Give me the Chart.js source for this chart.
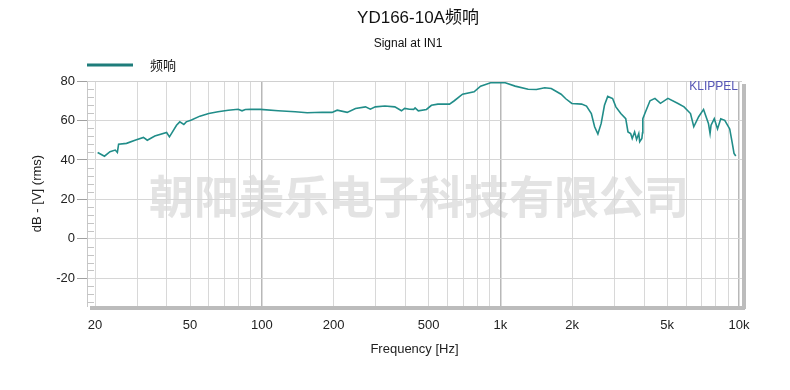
<!DOCTYPE html>
<html>
<head>
<meta charset="utf-8">
<script src="https://cdn.jsdelivr.net/npm/chart.js@4/dist/chart.umd.min.js"></script>
<style>
  html, body { margin: 0; padding: 0; background: #fff; }
  #wrap { width: 790px; height: 390px; }
</style>
</head>
<body>
<div id="wrap"><canvas id="fr" width="790" height="390"></canvas></div>
<script>
// YD166-10A frequency response (Klippel export)
const freqHz = [
    20.5, 21.9, 23.1, 24.3, 24.8, 25.1, 27.1, 29.4, 31.9, 33.1, 35.6, 39.9, 41.0, 43.9, 45.3, 47.1, 48.2,
    50.7, 55.0, 59.9, 65.5, 72.3, 79.6, 82.6, 85.3, 89.5, 98.6, 117, 138, 155, 179, 197, 207,
    228, 247, 272, 285, 299, 328, 361, 385, 397, 416, 433, 439, 453, 490, 514, 547,
    612, 641, 694, 776, 826, 910, 1000, 1048, 1153, 1307, 1416, 1534, 1634, 1797, 1880, 1993,
    2191, 2296, 2406, 2483, 2563, 2646, 2731, 2818, 2954, 3049, 3197, 3353, 3427, 3516, 3570, 3653,
    3723, 3803, 3837, 3918, 3943, 3955, 4044, 4239, 4445, 4688, 5040, 5530, 5888, 6266, 6467, 6780,
    7107, 7450, 7567, 7640, 7882, 8133, 8391, 8721, 9148, 9357, 9537, 9700
];
const levelDb = [
    43.8, 41.9, 44.2, 45.0, 43.8, 48.0, 48.4, 50.0, 51.4, 50.0, 52.1, 53.9, 51.7, 57.6, 59.3, 58.0, 59.3,
    60.2, 62.2, 63.5, 64.4, 65.2, 65.7, 64.9, 65.6, 65.7, 65.6, 64.9, 64.4, 63.9, 64.2, 64.1, 65.2,
    64.1, 66.1, 66.9, 65.7, 66.9, 67.3, 66.9, 64.9, 66.1, 65.7, 65.6, 66.4, 64.9, 65.6, 67.7, 68.3,
    68.3, 70.0, 73.3, 74.5, 77.4, 79.1, 79.2, 79.1, 77.4, 75.8, 75.7, 76.6, 76.2, 73.3, 71.0, 68.6,
    68.3, 67.3, 63.5, 56.8, 53.1, 58.5, 67.7, 72.2, 71.1, 66.9, 63.5, 60.9, 54.2, 53.4, 50.9, 54.2,
    50.4, 53.4, 49.2, 50.9, 53.8, 60.9, 63.9, 70.0, 71.2, 68.7, 71.2, 68.7, 66.9, 63.5, 56.8, 61.9,
    65.6, 58.5, 53.4, 57.6, 60.9, 55.7, 60.9, 60.1, 55.7, 49.2, 43.3, 42.0
];

const xGridFreqs = [20, 30, 40, 50, 60, 70, 80, 90, 100, 200, 300, 400, 500, 600, 700, 800, 900,
    1000, 2000, 3000, 4000, 5000, 6000, 7000, 8000, 9000, 10000];
const xTickText = { 20: '20', 50: '50', 100: '100', 200: '200', 500: '500', 1000: '1k', 2000: '2k', 5000: '5k', 10000: '10k' };
const xDecades = [100, 1000, 10000];
const yMajorTicks = [80, 60, 40, 20, 0, -20];
const yMin = -34, yMax = 80, yMinorStep = 4;

const titleText = 'YD166-10A频响';
const subtitleText = 'Signal at IN1';
const seriesName = '频响';
const watermarkText = '朝阳美乐电子科技有限公司';

const lineColor = '#218d89';
const sansFont = '"Liberation Sans", Arial, "Noto Sans CJK SC", sans-serif';
const cjkFont = '"Noto Sans CJK SC", "Liberation Sans", sans-serif';

const points = freqHz.map((f, i) => ({ x: f, y: levelDb[i] }));

const decor = {
    id: 'decor',
    beforeDraw(chart) {
        const c = chart.ctx;
        c.save();
        c.fillStyle = '#fff';
        c.fillRect(0, 0, chart.width, chart.height);
        // watermark sits under the grid
        c.fillStyle = '#e3e3e3';
        c.font = 'bold 45px ' + cjkFont;
        c.textAlign = 'center';
        c.textBaseline = 'middle';
        c.fillText(watermarkText, 419, 197);
        c.restore();
    },
    beforeDatasetsDraw(chart) {
        const c = chart.ctx, a = chart.chartArea, ys = chart.scales.y;
        c.save();
        // small ruler ticks inside the left edge
        c.strokeStyle = '#c4c4c4';
        c.lineWidth = 1;
        for (let v = -32; v <= yMax; v += yMinorStep) {
            if (yMajorTicks.includes(v)) continue;
            const py = Math.round(ys.getPixelForValue(v)) + 0.5;
            c.beginPath();
            c.moveTo(a.left, py);
            c.lineTo(a.left + 7, py);
            c.stroke();
        }
        c.restore();
    },
    afterDraw(chart) {
        const c = chart.ctx, a = chart.chartArea;
        c.save();
        // shadowed frame
        c.fillStyle = '#bcbcbc';
        c.fillRect(a.left + 3, a.bottom, a.right - a.left, 4);
        c.fillRect(a.right, a.top + 3, 4, a.bottom - a.top);
        c.strokeStyle = '#d0d0d0';
        c.lineWidth = 1;
        c.beginPath();
        c.moveTo(a.left, a.top + 0.5);
        c.lineTo(a.right, a.top + 0.5);
        c.stroke();

        c.fillStyle = '#111';
        c.textAlign = 'center';
        c.textBaseline = 'middle';
        c.font = '17px ' + sansFont;
        c.fillText(titleText, 418, 18);
        c.font = '12px ' + sansFont;
        c.fillText(subtitleText, 408, 44);

        // legend
        c.strokeStyle = '#1e7d7b';
        c.lineWidth = 3;
        c.beginPath();
        c.moveTo(87, 65);
        c.lineTo(133, 65);
        c.stroke();
        c.textAlign = 'left';
        c.font = '13px ' + cjkFont;
        c.fillText(seriesName, 150, 65);

        c.fillStyle = '#5555b5';
        c.textAlign = 'right';
        c.font = '12px ' + sansFont;
        c.fillText('KLIPPEL', 738, 87);
        c.restore();
    }
};

new Chart(document.getElementById('fr'), {
    type: 'line',
    data: {
        datasets: [{
            label: seriesName,
            data: points,
            borderColor: lineColor,
            borderWidth: 1.6,
            pointRadius: 0,
            tension: 0,
            fill: false
        }]
    },
    options: {
        responsive: false,
        animation: false,
        devicePixelRatio: 1,
        layout: { padding: { top: 81, right: 48, bottom: 0, left: 0 } },
        plugins: {
            legend: { display: false },
            title: { display: false },
            tooltip: { enabled: false }
        },
        scales: {
            x: {
                type: 'logarithmic',
                min: 18.5,
                max: 10300,
                afterBuildTicks: s => { s.ticks = xGridFreqs.map(v => ({ value: v })); },
                afterFit: s => { s.height = 84; },
                ticks: {
                    autoSkip: false,
                    maxRotation: 0,
                    padding: 12,
                    color: '#222',
                    font: { size: 13, family: sansFont },
                    callback: v => xTickText[v] || ''
                },
                grid: {
                    drawTicks: false,
                    color: ctx => xDecades.includes(ctx.tick && ctx.tick.value) ? '#b8b8b8' : '#d8d8d8',
                    lineWidth: ctx => xDecades.includes(ctx.tick && ctx.tick.value) ? 1.5 : 1
                },
                border: { display: false },
                title: {
                    display: true,
                    text: 'Frequency [Hz]',
                    color: '#222',
                    font: { size: 13, family: sansFont },
                    padding: { top: 0, bottom: 33 }
                }
            },
            y: {
                min: yMin,
                max: yMax,
                afterBuildTicks: s => {
                    const t = [];
                    for (let v = -32; v <= yMax; v += yMinorStep) t.push({ value: v });
                    s.ticks = t;
                },
                afterFit: s => { s.width = 87; },
                ticks: {
                    autoSkip: false,
                    padding: 2,
                    color: '#222',
                    font: { size: 13, family: sansFont },
                    callback: v => yMajorTicks.includes(v) ? String(v) : ''
                },
                grid: {
                    tickLength: 10,
                    color: ctx => yMajorTicks.includes(ctx.tick && ctx.tick.value) ? '#d6d6d6' : 'rgba(0,0,0,0)',
                    tickColor: ctx => yMajorTicks.includes(ctx.tick && ctx.tick.value) ? '#a0a0a0' : 'rgba(0,0,0,0)'
                },
                border: { display: true, color: '#c8c8c8' },
                title: {
                    display: true,
                    text: 'dB - [V] (rms)',
                    color: '#222',
                    font: { size: 13, family: sansFont },
                    padding: { top: 30, bottom: 0 }
                }
            }
        }
    },
    plugins: [decor]
});
</script>
</body>
</html>
